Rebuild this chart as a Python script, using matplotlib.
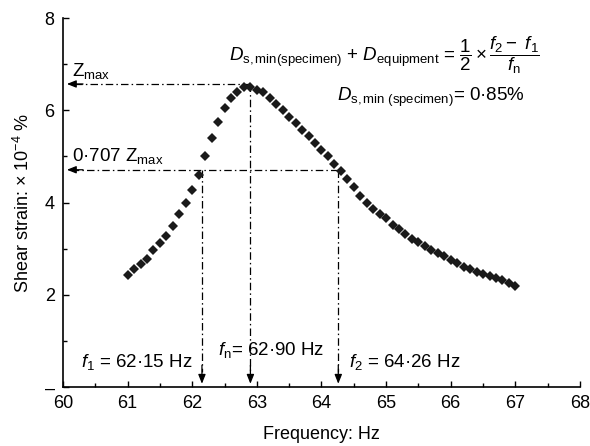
import numpy as np
import matplotlib
matplotlib.use("Agg")
import matplotlib.pyplot as plt

plt.rcParams['font.family'] = ['Liberation Sans', 'DejaVu Sans']
plt.rcParams['mathtext.fontset'] = 'custom'
plt.rcParams['mathtext.rm'] = 'Liberation Sans'
plt.rcParams['mathtext.it'] = 'Liberation Sans:italic'
plt.rcParams['mathtext.bf'] = 'Liberation Sans:bold'

# ---- data ----
frequency = [61.0, 61.1, 61.2, 61.3, 61.4, 61.5, 61.6, 61.7, 61.8, 61.9,
             62.0, 62.1, 62.2, 62.3, 62.4, 62.5, 62.6, 62.7, 62.8, 62.9,
             63.0, 63.1, 63.2, 63.3, 63.4, 63.5, 63.6, 63.7, 63.8, 63.9,
             64.0, 64.1, 64.2, 64.3, 64.4, 64.5, 64.6, 64.7, 64.8, 64.9,
             65.0, 65.1, 65.2, 65.3, 65.4, 65.5, 65.6, 65.7, 65.8, 65.9,
             66.0, 66.1, 66.2, 66.3, 66.4, 66.5, 66.6, 66.7, 66.8, 66.9, 67.0]
shear_strain = [2.43, 2.56, 2.66, 2.78, 2.96, 3.12, 3.28, 3.50, 3.76, 3.98,
                4.27, 4.60, 5.01, 5.39, 5.75, 6.04, 6.26, 6.40, 6.51, 6.50,
                6.44, 6.40, 6.27, 6.13, 6.01, 5.86, 5.72, 5.58, 5.44, 5.29,
                5.14, 5.00, 4.84, 4.68, 4.50, 4.33, 4.14, 4.00, 3.87, 3.76,
                3.66, 3.52, 3.42, 3.31, 3.20, 3.14, 3.05, 2.98, 2.90, 2.83,
                2.76, 2.68, 2.61, 2.55, 2.50, 2.45, 2.41, 2.36, 2.31, 2.25, 2.19]

f1, fn, f2 = 62.15, 62.90, 64.26
zmax_level = 6.57
half_power_level = 4.71

x_ticks = [60, 61, 62, 63, 64, 65, 66, 67, 68]
y_ticks = [0, 2, 4, 6, 8]
y_ticklabels = ['–', '2', '4', '6', '8']

fig = plt.figure(figsize=(5.9, 4.46), dpi=100)
ax = fig.add_axes([0.1068, 0.1323, 0.8762, 0.8273])

ax.plot(frequency, shear_strain, linestyle='none', marker='D',
        markersize=5.0, color='#1a1a1a', markeredgewidth=0, zorder=3)

ax.set_xlim(60, 68)
ax.set_ylim(0, 8)
ax.set_xticks(x_ticks)
ax.set_yticks(y_ticks)
ax.set_yticklabels(y_ticklabels)
ax.set_xticks(np.arange(60.5, 68, 1.0), minor=True)
ax.set_yticks([1, 3, 5, 7], minor=True)
ax.tick_params(which='both', direction='in', width=1.0, labelsize=13, pad=6)
ax.tick_params(which='major', length=4)
ax.tick_params(which='minor', length=3)
for s in ['top', 'right']:
    ax.spines[s].set_visible(False)
for s in ['left', 'bottom']:
    ax.spines[s].set_linewidth(1.2)

ax.set_xlabel('Frequency: Hz', fontsize=13, labelpad=10)
ax.set_ylabel(r'Shear strain: $\times$ 10$^{-4}$ %', fontsize=13, labelpad=8)

# dash-dot guide lines
ls = dict(color='black', linewidth=0.9, linestyle=(0, (6, 2.5, 1.2, 2.5)))
tip_x = 60.06
tip_y = 0.07
ax.plot([fn, tip_x + 0.1], [zmax_level, zmax_level], **ls)
ax.plot([f2, tip_x + 0.1], [half_power_level, half_power_level], **ls)
ax.plot([f1, f1], [half_power_level, tip_y + 0.25], **ls)
ax.plot([fn, fn], [zmax_level, tip_y + 0.25], **ls)
ax.plot([f2, f2], [half_power_level, tip_y + 0.25], **ls)

aprops = dict(arrowstyle='-|>,head_length=0.55,head_width=0.22',
              color='black', linewidth=0.9, shrinkA=0, shrinkB=0)
for yv in [zmax_level, half_power_level]:
    ax.annotate('', xy=(tip_x, yv), xytext=(tip_x + 0.25, yv), arrowprops=aprops)
for xv in [f1, fn, f2]:
    ax.annotate('', xy=(xv, tip_y), xytext=(xv, tip_y + 0.4), arrowprops=aprops)

# text annotations
fs = 13.5
ax.text(60.14, 6.64, r'Z$_{\mathrm{max}}$', fontsize=fs, ha='left', va='bottom')
ax.text(60.14, 4.8, r'0·707 Z$_{\mathrm{max}}$', fontsize=fs, ha='left', va='bottom')
ax.text(60.28, 0.33, r'$f_1$ = 62·15 Hz', fontsize=fs, ha='left', va='bottom')
ax.text(62.4, 0.58, r'$f_{\mathrm{n}}$= 62·90 Hz', fontsize=fs, ha='left', va='bottom')
ax.text(64.42, 0.33, r'$f_2$ = 64·26 Hz', fontsize=fs, ha='left', va='bottom')

ax.text(64.98, 7.2,
        r'$D_{\mathrm{s,min(specimen)}}$ + $D_{\mathrm{equipment}}$ = '
        r'$\dfrac{1}{2}\times\dfrac{f_2 - \ f_1}{f_{\mathrm{n}}}$',
        fontsize=fs, ha='center', va='center')
ax.text(65.7, 6.28, r'$D_{\mathrm{s,min\ (specimen)}}$= 0·85%',
        fontsize=fs, ha='center', va='center')

fig.savefig('out.png', dpi=100)
